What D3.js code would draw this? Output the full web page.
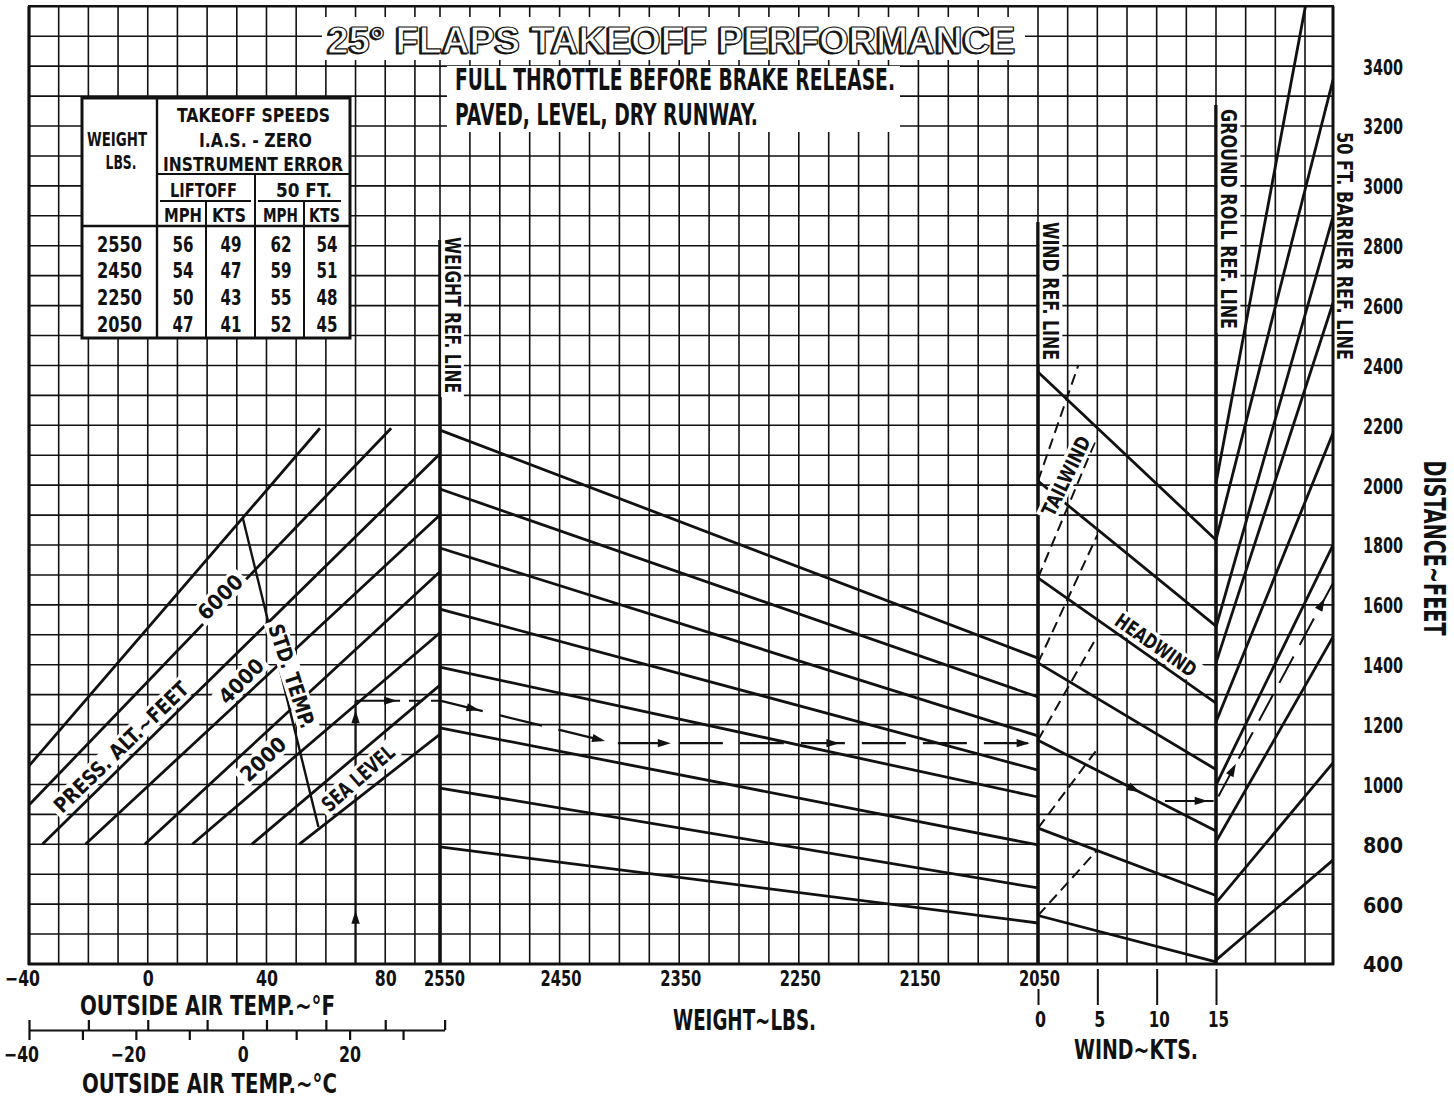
<!DOCTYPE html>
<html><head><meta charset="utf-8">
<script src="https://cdn.jsdelivr.net/npm/d3@7/dist/d3.min.js"></script>
<style>
html,body{margin:0;padding:0;background:#fff;}
svg{display:block;}
text{font-family:'Liberation Sans Narrow','DejaVu Sans Condensed','Liberation Sans','DejaVu Sans',sans-serif;font-weight:bold;fill:#111;}
</style></head><body>
<svg id="chart" width="1454" height="1099"></svg>
<script>
// ---------------- DATA ----------------
const distanceTicks = [400,600,800,1000,1200,1400,1600,1800,2000,2200,2400,2600,2800,3000,3200,3400];
const tempTicksF = [-40,0,40,80];
const tempTicksC = [-40,-20,0,20];
const weightTicks = [2550,2450,2350,2250,2150,2050];
const windTicks = [0,5,10,15];

// pressure altitude lines: [tempF, distance ft]
const pressAltitudes = [7000,6000,5000,4000,3000,2000,1000,0];
const pressAltLines = [
  [[-40,1062],[58,2190]],
  [[-40,931],[82,2190]],
  [[-35.5,800],[100,2120]],
  [[-21,800],[100,1915]],
  [[-1,800],[100,1725]],
  [[15,800],[100,1520]],
  [[35,800],[100,1345]],
  [[51,800],[100,1180]]
];
const stdTempLine = [[32,1891],[57.5,858]];

// weight guide lines: distance at 2550 lb and at 2050 lb
const weightLineStart = [2184,1987,1790,1586,1392,1189,988,791];
const weightLineEnd   = [1422,1292,1162,1048,958,798,654,537];

// wind guide lines
const headwindStart = [2378,2014,1690,1406,1148,854,562];
const headwindEnd   = [1817,1529,1272,1050,844,629,407];   // at 15 kts
const tailwindStart = [2014,1690,1406,1148,854,562];
const tailwindEndKts = [3.4,5,5,5,5,5];
const tailwindEnd   = [2401,2163,1833,1496,1118,781];

// ground roll -> 50 ft barrier guide lines
const groundRollStart = [2007,1817,1526,1406,1209,998,808,604,413];
const barrierEnd      = [4092,3354,2896,2609,2174,1800,1493,1072,747];

// worked example
const exTempF = 70, exAltD = 1280, exWeight = 2405, exWeightD = 1138;
const exWind = 10, exGroundRoll = 945, exBarrier = 1673;

// takeoff speeds table
const tableWeights = [2550,2450,2250,2050];
const liftoffMph = [56,54,50,47];
const liftoffKts = [49,47,43,41];
const barrierMph = [62,59,55,52];
const barrierKts = [54,51,48,45];

// ---------------- SCALES ----------------
const yD = d3.scaleLinear().domain([400,3600]).range([964,6.3]);
const xT = d3.scaleLinear().domain([-40,100]).range([29,444.6]);
const xC = d3.scaleLinear().domain([-40,(100-32)*5/9]).range([29,444.6]);
const xW = d3.scaleLinear().domain([2550,2050]).range([440,1038]);
const xK = d3.scaleLinear().domain([0,15]).range([1038,1216]);
const xP = d3.scaleLinear().domain([0,1]).range([1216,1333]);

const svg = d3.select("#chart");
const INK = "#111";
const line = d3.line();
const fmtInt = d3.format("d");

function txt(g, s, x, y, size, len, anchor) {
  const t = g.append("text").attr("x", x).attr("y", y).attr("font-size", size)
    .attr("text-anchor", anchor || "start").text(s);
  if (len) t.attr("textLength", len).attr("lengthAdjust", "spacingAndGlyphs");
  return t;
}
function label(g, s, cx, cy, size, len, rot, box) {
  const t = g.append("g").attr("transform", `translate(${cx},${cy}) rotate(${rot})`);
  if (box) t.append("rect").attr("x", -len/2-4).attr("y", -size*0.38-3)
    .attr("width", len+8).attr("height", size*0.76+6).attr("fill", "#fff");
  t.append("text").attr("text-anchor","middle").attr("dy","0.36em").attr("font-size",size)
    .attr("textLength",len).attr("lengthAdjust","spacingAndGlyphs").text(s);
}
function arrowHead(g, x, y, ang) {
  const L = 13, W = 4.2;
  const bx = x - L*Math.cos(ang), by = y - L*Math.sin(ang);
  const px = -Math.sin(ang)*W, py = Math.cos(ang)*W;
  g.append("path").attr("d", `M${x},${y}L${bx+px},${by+py}L${bx-px},${by-py}Z`).attr("fill", INK);
}
function pathLine(g, pts, w, dash) {
  const p = g.append("path").attr("d", line(pts)).attr("fill","none").attr("stroke",INK)
    .attr("stroke-width", w).attr("stroke-linecap","butt");
  if (dash) p.attr("stroke-dasharray", dash);
  return p;
}

// ---------------- GRID ----------------
const gGrid = svg.append("g").attr("stroke", INK).attr("stroke-width", 1.6);
gGrid.selectAll("line.h").data(d3.range(400,3601,100)).join("line")
  .attr("x1",29).attr("x2",1333).attr("y1",d=>yD(d)).attr("y2",d=>yD(d));
const gridX = [
  ...d3.range(-30,91,10).map(xT),
  ...d3.range(2550,2049,-25).map(xW),
  ...d3.range(2.5,23,2.5).map(xK)
];
gGrid.selectAll("line.v").data(gridX).join("line")
  .attr("x1",d=>d).attr("x2",d=>d).attr("y1",yD(3600)).attr("y2",964);

// frame
const gFrame = svg.append("g").attr("stroke", INK).attr("fill","none");
gFrame.append("line").attr("x1",29).attr("x2",29).attr("y1",yD(3600)).attr("y2",965).attr("stroke-width",3.2);
gFrame.append("line").attr("x1",1333).attr("x2",1333).attr("y1",yD(3600)).attr("y2",965).attr("stroke-width",3);
gFrame.append("line").attr("x1",28).attr("x2",1334).attr("y1",964).attr("y2",964).attr("stroke-width",3);
gFrame.append("line").attr("x1",28).attr("x2",1334).attr("y1",yD(3600)).attr("y2",yD(3600)).attr("stroke-width",2.4);

// reference lines
const gRef = svg.append("g").attr("stroke", INK).attr("stroke-width", 3.6);
[[xW(2550),240],[xK(0),222],[xK(15),105]].forEach(([x,top]) =>
  gRef.append("line").attr("x1",x).attr("x2",x).attr("y1",top).attr("y2",964));

// ---------------- LEFT PANEL ----------------
svg.append("clipPath").attr("id","clipL").append("rect")
  .attr("x",29).attr("y",0).attr("width",xW(2550)-29).attr("height",970);
const gL = svg.append("g").attr("clip-path","url(#clipL)");
pressAltLines.forEach(pts => pathLine(gL, pts.map(([t,d]) => [xT(t), yD(d)]), 2.8));
pathLine(gL, stdTempLine.map(([t,d]) => [xT(t), yD(d)]), 2.4);

// example in left panel
const gEx = svg.append("g");
pathLine(gEx, [[xT(exTempF), yD(400)],[xT(exTempF), yD(exAltD)]], 2);
arrowHead(gEx, xT(exTempF), yD(578), -Math.PI/2);
arrowHead(gEx, xT(exTempF), yD(1248), -Math.PI/2);
pathLine(gEx, [[xT(exTempF), yD(exAltD)],[xT(85), yD(exAltD)]], 2);
arrowHead(gEx, xT(84), yD(exAltD), 0);
pathLine(gL, [[xT(88), yD(exAltD)],[xT(100), yD(exAltD)]], 2, "14,8");

// ---------------- WEIGHT PANEL ----------------
const gWt = svg.append("g");
weightLineStart.forEach((s,i) =>
  pathLine(gWt, [[xW(2550), yD(s)],[xW(2050), yD(weightLineEnd[i])]], 2.8));
const exWPath = d3.scaleLinear().domain([2550, exWeight, 2050]).range([exAltD, exWeightD, exWeightD]);
pathLine(gWt, [[xW(2550), yD(exAltD)],[xW(exWeight), yD(exWeightD)],[xW(2050), yD(exWeightD)]], 2.2, "44,17");
[2517, 2412, 2357, 2216, 2057].forEach(w => {
  const x = xW(w), y = yD(exWPath(w));
  const x0 = xW(w+4), y0 = yD(exWPath(w+4));
  arrowHead(gWt, x, y, Math.atan2(y-y0, x-x0));
});

// ---------------- WIND PANEL ----------------
const gWind = svg.append("g");
headwindStart.forEach((s,i) =>
  pathLine(gWind, [[xK(0), yD(s)],[xK(15), yD(headwindEnd[i])]], 2.8));
tailwindStart.forEach((s,i) =>
  pathLine(gWind, [[xK(0), yD(s)],[xK(tailwindEndKts[i]), yD(tailwindEnd[i])]], 2, "11,6"));
{
  const hw = d3.scaleLinear().domain([0,15]).range([headwindStart[4], headwindEnd[4]]);
  const a = Math.atan2(yD(hw(9))-yD(hw(8)), xK(9)-xK(8));
  arrowHead(gWind, xK(8.6), yD(hw(8.6)), a);
  pathLine(gWind, [[xK(10.7), yD(exGroundRoll)],[xK(14.8), yD(exGroundRoll)]], 2);
  arrowHead(gWind, xK(14.3), yD(exGroundRoll), 0);
}

// ---------------- BARRIER PANEL ----------------
svg.append("clipPath").attr("id","clipR").append("rect")
  .attr("x",xP(0)).attr("y",yD(3600)).attr("width",xP(1)-xP(0)).attr("height",964-yD(3600));
const gB = svg.append("g").attr("clip-path","url(#clipR)");
groundRollStart.forEach((g,i) =>
  pathLine(gB, [[xP(0), yD(g)],[xP(1), yD(barrierEnd[i])]], 2.8));
{
  const bx = d3.scaleLinear().domain([0,1]).range([exGroundRoll, exBarrier]);
  pathLine(gB, [[xP(0.02), yD(bx(0.02))],[xP(1), yD(exBarrier)]], 2, "30,13");
  const a = Math.atan2(yD(exBarrier)-yD(exGroundRoll), xP(1)-xP(0));
  arrowHead(svg, xP(0.17), yD(bx(0.17)), a);
  arrowHead(svg, xP(0.93), yD(bx(0.93)), a);
}

// ---------------- LABELS ON CHART ----------------
const gLab = svg.append("g");
label(gLab, "WEIGHT REF. LINE", 452.5, 315, 22, 156, 90, true);
label(gLab, "WIND REF. LINE", 1051, 291, 22, 138, 90, true);
label(gLab, "GROUND ROLL REF. LINE", 1229, 219, 22, 220, 90, true);
label(gLab, "50 FT. BARRIER REF. LINE", 1345, 246, 22, 228, 90, false);
label(gLab, "DISTANCE~FEET", 1435, 548, 31, 175, 90, false);
label(gLab, "TAILWIND", 1066, 476, 20, 86, -64, true);
label(gLab, "HEADWIND", 1156, 645, 20, 94, 35, true);
label(gLab, "SEA LEVEL", 358, 778, 21, 89, -41, true);
label(gLab, "STD. TEMP.", 292, 676, 21, 108, 72, true);
label(gLab, "2000", 263, 759, 21, 54, -43, true);
label(gLab, "4000", 241, 681, 21, 54, -45, true);
label(gLab, "6000", 220, 597, 21, 54, -45, true);
label(gLab, "PRESS. ALT.~FEET", 121, 747, 21, 178, -44, true);

// ---------------- TITLE / NOTES ----------------
const gT = svg.append("g");
gT.append("rect").attr("x",322).attr("y",17).attr("width",703).attr("height",43).attr("fill","#fff");
gT.append("rect").attr("x",447).attr("y",66).attr("width",453).attr("height",66).attr("fill","#fff");
const ttl = "25° FLAPS TAKEOFF PERFORMANCE";
const titleFont = "'Liberation Sans','DejaVu Sans',sans-serif";
txt(gT, ttl, 325.8, 54, 37, 688).style("font-family", titleFont)
  .style("fill",INK).attr("stroke",INK).attr("stroke-width",0.8).attr("stroke-linejoin","round");
txt(gT, ttl, 327.5, 52.5, 37, 688).style("font-family", titleFont)
  .style("fill","#fff").attr("stroke",INK).attr("stroke-width",1.2).attr("stroke-linejoin","round");
txt(gT, "FULL THROTTLE BEFORE BRAKE RELEASE.", 455, 90, 30, 440);
txt(gT, "PAVED, LEVEL, DRY RUNWAY.", 455, 125, 30, 303);

// ---------------- TABLE ----------------
const gTab = svg.append("g");
gTab.append("rect").attr("x",82).attr("y",98).attr("width",268).attr("height",240)
  .attr("fill","#fff").attr("stroke",INK).attr("stroke-width",3);
const tl = (x1,y1,x2,y2,w) => gTab.append("line").attr("x1",x1).attr("y1",y1).attr("x2",x2).attr("y2",y2)
  .attr("stroke",INK).attr("stroke-width",w||2);
tl(157,98,157,338,2.4); tl(157,174,350,174); tl(255,174,255,338); tl(82,226,350,226,2.4);
tl(160,201,251,201); tl(258,201,341,201); tl(206,201,206,338); tl(304,201,304,338);
txt(gTab,"WEIGHT",117,146,20,60,"middle");
txt(gTab,"LBS.",121,169,20,31,"middle");
txt(gTab,"TAKEOFF SPEEDS",253.5,122,20,153,"middle");
txt(gTab,"I.A.S. - ZERO",255.5,147,20,113,"middle");
txt(gTab,"INSTRUMENT ERROR",253,171,20,180,"middle");
txt(gTab,"LIFTOFF",203.5,197,20,67,"middle");
txt(gTab,"50 FT.",304,197,20,56,"middle");
[["MPH",183,38],["KTS",229,34],["MPH",280.5,35],["KTS",324.5,31]].forEach(([s,x,l]) => txt(gTab,s,x,222,20,l,"middle"));
const rowY = [252,278,305,332];
tableWeights.forEach((w,i) => {
  txt(gTab, String(w), 119.5, rowY[i], 22, 45, "middle");
  txt(gTab, String(liftoffMph[i]), 183, rowY[i], 22, 21, "middle");
  txt(gTab, String(liftoffKts[i]), 231, rowY[i], 22, 21, "middle");
  txt(gTab, String(barrierMph[i]), 281, rowY[i], 22, 21, "middle");
  txt(gTab, String(barrierKts[i]), 327, rowY[i], 22, 21, "middle");
});

// ---------------- AXES ----------------
const fmtNeg = d => d < 0 ? "\u2212" + (-d) : String(d);
function styleAxis(g) { g.attr("font-size", null).attr("font-family", null); }

// distance axis (right)
const axD = svg.append("g").attr("transform","translate(1383,0)")
  .call(d3.axisRight(yD).tickValues(distanceTicks).tickSize(0).tickPadding(0).tickFormat(fmtInt));
styleAxis(axD); axD.select(".domain").remove();
axD.selectAll("text").attr("x",0).attr("dy","0.36em").attr("text-anchor","middle")
  .attr("font-size",22).attr("textLength",40).attr("lengthAdjust","spacingAndGlyphs");

// temperature F axis labels
const axF = svg.append("g").attr("transform","translate(0,964)")
  .call(d3.axisBottom(xT).tickValues(tempTicksF).tickSize(0).tickFormat(fmtNeg));
styleAxis(axF); axF.select(".domain").remove();
axF.selectAll("text").attr("y",22).attr("dy",null).attr("font-size",22)
  .attr("dx", d => d < 0 ? -7 : 0)
  .attr("textLength", d => d < 0 ? 35 : (d === 0 ? 11 : 22)).attr("lengthAdjust","spacingAndGlyphs");
txt(svg, "OUTSIDE AIR TEMP.~°F", 80, 1015, 26, 255);

// temperature C axis
const axC = svg.append("g").attr("transform","translate(0,1030)")
  .call(d3.axisBottom(xC).tickValues(d3.range(-40,31,10)).tickSize(10).tickSizeOuter(0)
    .tickFormat(d => tempTicksC.includes(d) ? fmtNeg(d) : ""));
styleAxis(axC);
axC.selectAll("path,line").attr("stroke",INK).attr("stroke-width",2.2);
axC.selectAll("text").attr("y",32).attr("dy",null).attr("font-size",21)
  .attr("dx", d => d < 0 ? -8 : 0)
  .attr("textLength", d => d < 0 ? 35 : (d === 0 ? 11 : 22)).attr("lengthAdjust","spacingAndGlyphs");
const axCu = svg.append("g").attr("transform","translate(0,1030)")
  .call(d3.axisTop(xT).tickValues(d3.range(-40,101,20)).tickSize(10).tickSizeOuter(0).tickFormat(""));
axCu.select(".domain").remove();
axCu.selectAll("line").attr("stroke",INK).attr("stroke-width",2.2);
txt(svg, "OUTSIDE AIR TEMP.~°C", 82, 1093, 26, 255);

// weight axis
const axW = svg.append("g").attr("transform","translate(0,964)")
  .call(d3.axisBottom(xW).tickValues(weightTicks).tickSize(0).tickFormat(fmtInt));
styleAxis(axW); axW.select(".domain").remove();
axW.selectAll("text").attr("y",22).attr("dy",null).attr("dx", d => d === 2550 ? 4 : 1).attr("font-size",22)
  .attr("textLength",41).attr("lengthAdjust","spacingAndGlyphs");
txt(svg, "WEIGHT~LBS.", 673, 1030, 28, 143);

// wind axis
const axK = svg.append("g").attr("transform","translate(0,964)")
  .call(d3.axisBottom(xK).tickValues(windTicks).tickSize(0));
styleAxis(axK); axK.select(".domain").remove();
axK.selectAll(".tick line").attr("y1", d => d === 0 ? 25 : 5).attr("y2", 41)
  .attr("stroke",INK).attr("stroke-width",2);
axK.selectAll("text").attr("y",63).attr("dy",null).attr("dx",2).attr("font-size",22)
  .attr("textLength", d => d < 10 ? 11 : 21).attr("lengthAdjust","spacingAndGlyphs");
txt(svg, "WIND~KTS.", 1074, 1059, 26, 124);
</script>
</body></html>
